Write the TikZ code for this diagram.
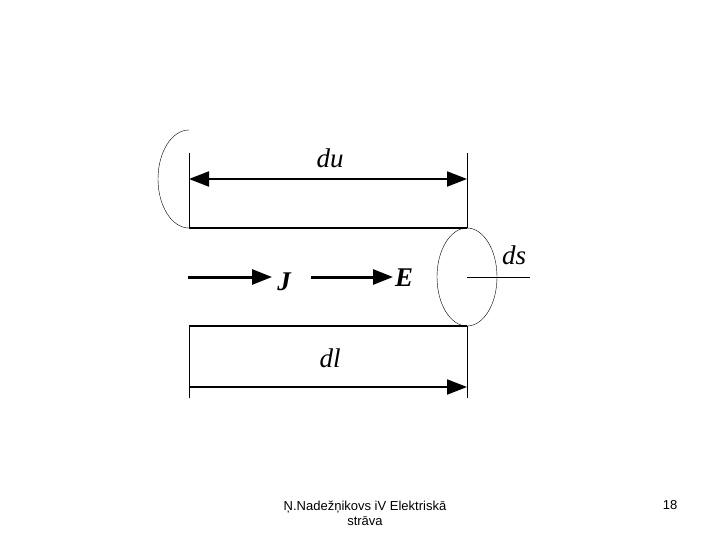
\documentclass[tikz,border=0pt]{standalone}
\usepackage{fontspec}
\setmainfont{Liberation Serif}
\newfontfamily\footfont{Liberation Sans}
\usetikzlibrary{arrows.meta}
\begin{document}
\begin{tikzpicture}[x=1pt,y=-1pt,
  tip/.style={-{Triangle[length=20pt,width=15pt]}},
  thick line/.style={line width=2pt},
  lab/.style={font=\fontsize{27}{27}\selectfont\itshape},
  foot/.style={font=\footfont\fontsize{13}{15}\selectfont,align=center}]
\useasboundingbox (0,0) rectangle (720,540);
% extension lines
\coordinate (lt) at (189,153); \coordinate (lb) at (189,398);
\coordinate (rt) at (467,153); \coordinate (rb) at (467,398);
\draw (lt) -- (189,228); \draw (rt) -- (467,228);
\draw (189,326) -- (lb); \draw (467,326) -- (rb);
% cylinder
\draw[line width=1.2pt] (189,228) -- (467,228);
\draw[line width=1.2pt] (189,326) -- (467,326);
\draw (189,228) arc[start angle=90,end angle=270,x radius=31,y radius=49];
\draw (467,277) ellipse[x radius=30,y radius=49];
% dimension arrows
\coordinate (a1) at (189,179); \coordinate (a2) at (467,179);
\draw[thick line,{Triangle[length=20pt,width=15pt]}-{Triangle[length=20pt,width=15pt]}] (a1) -- (a2);
\coordinate (b1) at (189,387); \coordinate (b2) at (467,387);
\draw[thick line,tip] (b1) -- (b2);
\node[lab] (du) at (330,158) {du};
\node[lab] (dl) at (330,358) {dl};
% J and E
\coordinate (j1) at (188,277); \coordinate (j2) at (272,277);
\draw[line width=3pt,tip] (j1) -- (j2);
\node[lab,font=\fontsize{27}{27}\selectfont\itshape\bfseries] (J) at (284,282) {J};
\coordinate (e1) at (311,277); \coordinate (e2) at (393,277);
\draw[line width=3pt,tip] (e1) -- (e2);
\node[lab,font=\fontsize{27}{27}\selectfont\itshape\bfseries] (E) at (404,278) {E};
% ds
\coordinate (d1) at (467,277); \coordinate (d2) at (530,277);
\draw (d1) -- (d2);
\node[lab] (ds) at (514,255) {ds};
% footer
\node[foot] (f) at (365,513) {Ņ.Nadežņikovs iV Elektriskā\\strāva};
\node[foot] (n) at (670,505) {18};
\end{tikzpicture}
\end{document}
